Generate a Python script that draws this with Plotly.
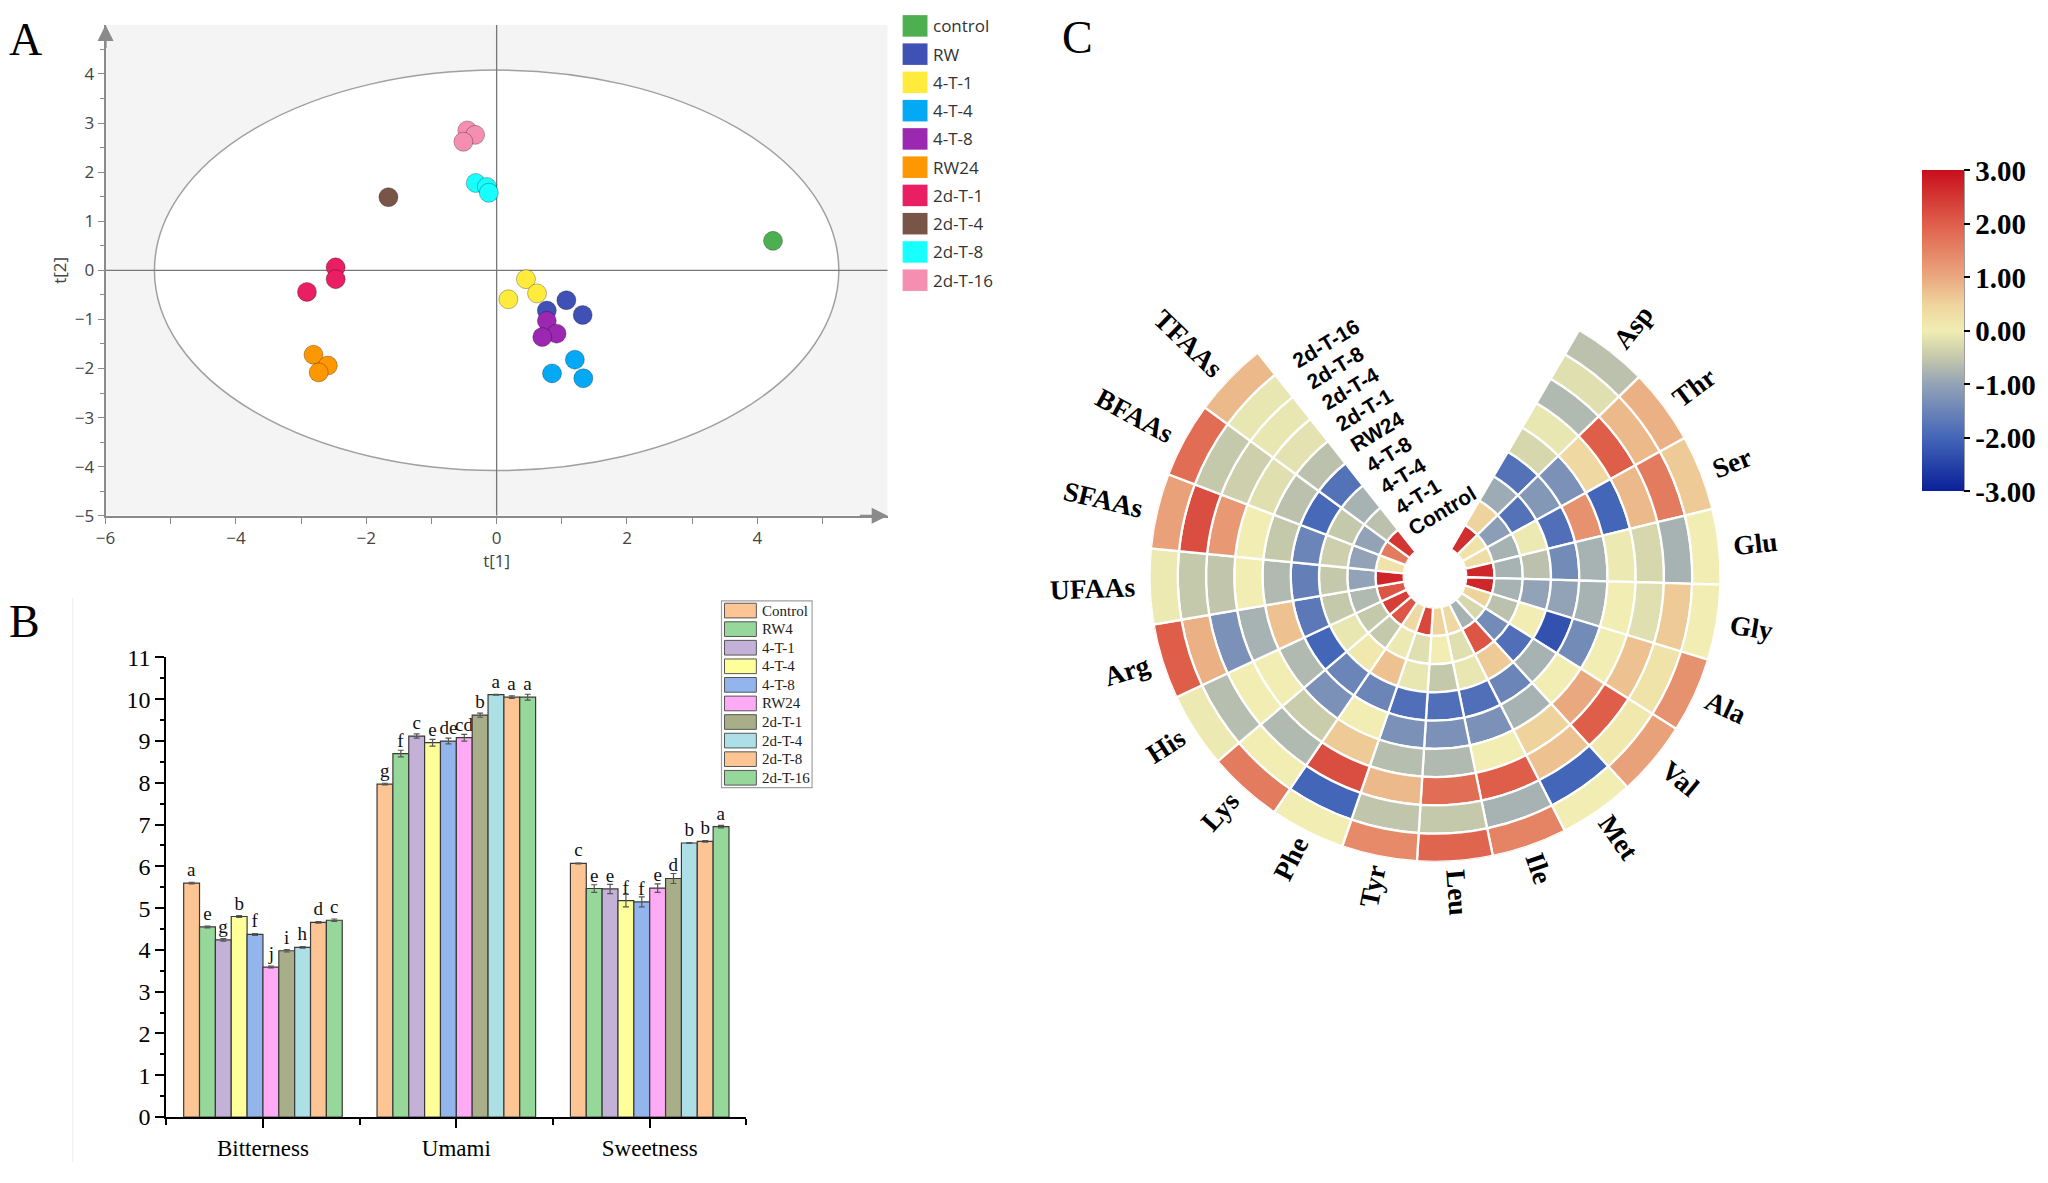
import math
import plotly.graph_objects as go

# target picture size and the page margin the browser puts around the figure
W_T, H_T = 2048, 1183
OFF = 8
W, H = W_T - 2 * OFF, H_T - 2 * OFF

# ---------------- Panel A : PCA score plot ----------------
groups_A = ["control", "RW", "4-T-1", "4-T-4", "4-T-8", "RW24", "2d-T-1", "2d-T-4", "2d-T-8", "2d-T-16"]
colors_A = ["#4CAF50", "#3F51B5", "#FFEB3B", "#03A9F4", "#9C27B0", "#FF9800", "#E91E63", "#795548", "#18FFFF", "#F48FB1"]
t1_control = [4.24];                t2_control = [0.60]
t1_RW = [1.07, 1.32, 0.77];         t2_RW = [-0.61, -0.91, -0.82]
t1_4T1 = [0.45, 0.62, 0.18];        t2_4T1 = [-0.18, -0.47, -0.59]
t1_4T4 = [1.20, 1.33, 0.85];        t2_4T4 = [-1.82, -2.20, -2.10]
t1_4T8 = [0.77, 0.92, 0.70];        t2_4T8 = [-1.03, -1.29, -1.36]
t1_RW24 = [-2.81, -2.59, -2.73];    t2_RW24 = [-1.72, -1.94, -2.08]
t1_2dT1 = [-2.47, -2.47, -2.91];    t2_2dT1 = [0.06, -0.18, -0.44]
t1_2dT4 = [-1.66];                  t2_2dT4 = [1.49]
t1_2dT8 = [-0.32, -0.15, -0.12];    t2_2dT8 = [1.78, 1.70, 1.58]
t1_2dT16 = [-0.45, -0.33, -0.51];   t2_2dT16 = [2.85, 2.76, 2.62]
scores_t1 = [t1_control, t1_RW, t1_4T1, t1_4T4, t1_4T8, t1_RW24, t1_2dT1, t1_2dT4, t1_2dT8, t1_2dT16]
scores_t2 = [t2_control, t2_RW, t2_4T1, t2_4T4, t2_4T8, t2_RW24, t2_2dT1, t2_2dT4, t2_2dT8, t2_2dT16]
ellipse_a, ellipse_b = 5.25, 4.08          # Hotelling T2 ellipse semi-axes
xticks_A = [-6, -4, -2, 0, 2, 4]
yticks_A = [-5, -4, -3, -2, -1, 0, 1, 2, 3, 4]

# ---------------- Panel B : e-tongue bars ----------------
tastes = ["Bitterness", "Umami", "Sweetness"]
samples_B = ["Control", "RW4", "4-T-1", "4-T-4", "4-T-8", "RW24", "2d-T-1", "2d-T-4", "2d-T-8", "2d-T-16"]
colors_B = ["#FDC594", "#96D89A", "#C3B1D8", "#FFFF99", "#93B5EE", "#FFAAF5", "#A8AE88", "#ADDFE6", "#FDC594", "#96D89A"]
bitterness = [5.60, 4.55, 4.24, 4.80, 4.37, 3.59, 3.98, 4.06, 4.66, 4.71]
umami = [7.97, 8.70, 9.12, 8.96, 9.00, 9.08, 9.62, 10.11, 10.05, 10.05]
sweetness = [6.07, 5.47, 5.46, 5.18, 5.15, 5.48, 5.71, 6.56, 6.60, 6.95]
err_bitterness = [0.02, 0.02, 0.03, 0.02, 0.02, 0.02, 0.03, 0.02, 0.02, 0.03]
err_umami = [0.02, 0.08, 0.05, 0.08, 0.07, 0.08, 0.05, 0.01, 0.03, 0.07]
err_sweetness = [0.01, 0.09, 0.11, 0.15, 0.12, 0.10, 0.12, 0.01, 0.02, 0.03]
sig_bitterness = ["a", "e", "g", "b", "f", "j", "i", "h", "d", "c"]
sig_umami = ["g", "f", "c", "e", "de", "cd", "b", "a", "a", "a"]
sig_sweetness = ["c", "e", "e", "f", "f", "e", "d", "b", "b", "a"]

# ---------------- Panel C : circular heatmap ----------------
amino = ["Asp", "Thr", "Ser", "Glu", "Gly", "Ala", "Val", "Met", "Ile", "Leu", "Tyr", "Phe",
         "Lys", "His", "Arg", "UFAAs", "SFAAs", "BFAAs", "TFAAs"]
rings = ["Control", "4-T-1", "4-T-4", "4-T-8", "RW24", "2d-T-1", "2d-T-4", "2d-T-8", "2d-T-16"]
z_control = [2.6, 0.2, 0.3, 2.7, 2.7, 0.5, -0.3, -0.8, 0.4, 0.5, 2.3, 0.4, 2.1, 2.4, 2.1, 2.7, 0.2, 1.6, 2.5]
z_4T1 = [0.5, -1.1, -0.8, -0.8, -0.8, -0.6, -1.4, 2.1, -0.2, 0.0, -0.2, -0.05, -0.5, -0.5, -0.7, -1.0, -1.0, -1.0, -0.6]
z_4T4 = [-0.9, -1.8, -0.05, -0.6, -1.0, 0.0, -1.85, 0.6, -0.1, -0.5, -0.1, 0.7, 0.1, -0.1, -0.5, -0.5, -0.4, -0.5, -0.8]
z_4T8 = [-1.8, -1.2, -1.85, -1.4, -1.0, -2.3, -0.8, -1.5, -1.85, -1.85, -1.85, -1.5, -1.5, -2.0, -1.7, -1.6, -1.5, -1.95, -1.8]
z_RW24 = [-0.3, -1.3, 1.3, -0.8, -0.8, -1.4, 0.0, -0.8, -1.3, -1.3, -1.3, 0.0, -1.3, -0.7, 0.7, -0.7, -0.5, -0.6, -0.6]
z_2dT1 = [-0.1, 0.4, -2.0, -0.05, 0.0, 0.0, 1.0, 0.5, 0.0, -0.7, -0.65, 0.6, -0.45, 0.0, -0.8, 0.0, 0.0, -0.2, -0.15]
z_2dT4 = [-0.7, 2.0, 0.8, -0.3, -0.2, 0.7, 2.0, 0.7, 2.0, 1.8, 0.8, 2.2, -0.7, 0.0, -1.3, -0.55, 1.2, -0.4, -0.1]
z_2dT8 = [-0.2, 0.8, 1.6, -0.8, 0.6, 0.2, 0.1, -2.0, -0.8, -0.5, -0.55, -2.0, 0.0, -0.65, 0.9, -0.5, 2.2, -0.5, -0.1]
z_2dT16 = [-0.6, 0.9, 0.6, 0.0, 0.0, 1.3, 1.1, 0.0, 1.5, 1.9, 1.4, 0.0, 1.6, -0.05, 2.0, -0.05, 1.1, 1.8, 0.8]
z_rings = [z_control, z_4T1, z_4T4, z_4T8, z_RW24, z_2dT1, z_2dT4, z_2dT8, z_2dT16]
cbar_vals = [-3, -2, -1, 0, 1, 2, 3]
cbar_text = ["-3.00", "-2.00", "-1.00", "0.00", "1.00", "2.00", "3.00"]

heat_scale = [[0.0, "#0A1F98"], [0.1667, "#4466B8"], [0.3333, "#93A3B7"], [0.4167, "#C5C9AB"],
              [0.5, "#F1EDB3"], [0.5833, "#EFD39C"], [0.6667, "#EAA87F"], [0.8333, "#DF5E4A"], [1.0, "#C80E1C"]]

# ---------------- geometry (pixels of the target picture) ----------------
A_x0, A_x1, A_y0, A_y1 = 96, 882, 12, 514
B_x0, B_x1, B_y0, B_y1 = 157, 740, 659, 1129
C_cx, C_cy, C_R, C_hole = 1432, 576, 292, 32
C_start, C_step = 52.0, 15.33

def px(x): return (x - OFF) / W
def py(y): return 1 - (y - OFF) / H

fig = go.Figure()

# ---- Panel A traces ----
for name, col, xs, ys in zip(groups_A, colors_A, scores_t1, scores_t2):
    fig.add_trace(go.Scatter(x=xs, y=ys, mode="markers", name=name, showlegend=False,
                             marker=dict(size=19, color=col, line=dict(color="rgba(0,0,0,0.28)", width=1)),
                             xaxis="x", yaxis="y"))

# ---- Panel B traces ----
for i, (name, col) in enumerate(zip(samples_B, colors_B)):
    fig.add_trace(go.Bar(
        x=[0, 1, 2], y=[bitterness[i], umami[i], sweetness[i]], name=name, showlegend=False,
        marker=dict(color=col, line=dict(color="#3a3a3a", width=1.2)),
        error_y=dict(type="data", array=[err_bitterness[i], err_umami[i], err_sweetness[i]],
                     color="#555555", thickness=1.2, width=3),
        text=[sig_bitterness[i], sig_umami[i], sig_sweetness[i]], textposition="outside",
        textfont=dict(family="Liberation Serif", size=19, color="#111"), constraintext="none",
        cliponaxis=False, xaxis="x2", yaxis="y2"))

# ---- Panel C trace ----
r_all, base_all, th_all, c_all = [], [], [], []
for k, zr in enumerate(z_rings):
    for i, v in enumerate(zr):
        r_all.append(1); base_all.append(k)
        th_all.append(C_start - C_step * i); c_all.append(v)
fig.add_trace(go.Barpolar(
    r=r_all, base=base_all, theta=th_all, width=[C_step] * len(r_all), subplot="polar", showlegend=False,
    marker=dict(color=c_all, colorscale=heat_scale, cmin=-3, cmax=3, line=dict(color="white", width=2.3),
                colorbar=dict(x=px(1921), xanchor="left", y=py((161 + 489) / 2), yanchor="middle",
                              len=(489 - 161) / H, lenmode="fraction", thickness=42, thicknessmode="pixels",
                              tickvals=cbar_vals, ticktext=cbar_text, ticks="outside", ticklen=6,
                              tickcolor="black", tickwidth=2, outlinewidth=0, xpad=0, ypad=0,
                              tickfont=dict(family="Liberation Serif", size=29, color="black", weight="bold"))),
))

shapes = []
ann = []

# Panel A backdrop
shapes.append(dict(type="rect", xref="x", yref="y", x0=-6, x1=6, y0=-5, y1=5, fillcolor="#F4F4F4",
                   line=dict(width=0), layer="below"))
shapes.append(dict(type="circle", xref="x", yref="y", x0=-ellipse_a, x1=ellipse_a, y0=-ellipse_b, y1=ellipse_b,
                   fillcolor="white", line=dict(color="#A0A0A0", width=1.5), layer="below"))
shapes.append(dict(type="line", xref="x", yref="y", x0=0, x1=0, y0=-5, y1=5, line=dict(color="#777", width=1.3), layer="below"))
shapes.append(dict(type="line", xref="x", yref="y", x0=-6, x1=6, y0=0, y1=0, line=dict(color="#777", width=1.3), layer="below"))
# axis arrows
ann.append(dict(xref="x", yref="y", axref="x", ayref="y", x=6.0, y=-5, ax=5.55, ay=-5, text="", showarrow=True,
                arrowhead=2, arrowsize=1.6, arrowwidth=2, arrowcolor="#8A8A8A"))
ann.append(dict(xref="x", yref="y", axref="x", ayref="y", x=-6, y=5.0, ax=-6, ay=4.5, text="", showarrow=True,
                arrowhead=2, arrowsize=1.6, arrowwidth=2, arrowcolor="#8A8A8A"))

# Panel A legend (manual)
for k, (name, col) in enumerate(zip(groups_A, colors_A)):
    yc = 13 + 28.9 * k
    shapes.append(dict(type="rect", xref="paper", yref="paper", x0=px(897), x1=px(922), y0=py(yc + 11), y1=py(yc - 11),
                       fillcolor=col, line=dict(width=0)))
    ann.append(dict(xref="paper", yref="paper", x=px(926), y=py(yc), text=name, showarrow=False, xanchor="left",
                    yanchor="middle", font=dict(family="Open Sans", size=17, color="#333")))

# Panel B legend (manual)
shapes.append(dict(type="rect", xref="paper", yref="paper", x0=px(715), x1=px(806), y0=py(792), y1=py(601),
                   fillcolor="white", line=dict(color="#A0A0A0", width=1.2)))
for k, (name, col) in enumerate(zip(samples_B, colors_B)):
    yc = 611 + 19 * k
    shapes.append(dict(type="rect", xref="paper", yref="paper", x0=px(718), x1=px(750), y0=py(yc + 7.5), y1=py(yc - 7.5),
                       fillcolor=col, line=dict(color="#555", width=1)))
    ann.append(dict(xref="paper", yref="paper", x=px(754), y=py(yc), text=name, showarrow=False, xanchor="left",
                    yanchor="middle", font=dict(family="Liberation Serif", size=15, color="#222")))
# faint border of panel B image
shapes.append(dict(type="line", xref="paper", yref="paper", x0=px(63), x1=px(63), y0=py(598), y1=0,
                   line=dict(color="#ECECEC", width=1)))

# Panel C labels
TB = {'U': .722, 'F': .611, 'A': .722, 's': .389, 'B': .667, 'S': .556, 'T': .667, 'L': .667, 'e': .444, 'u': .556,
      'I': .389, 'l': .278, 'M': .944, 't': .333, 'V': .722, 'a': .5, 'G': .778, 'y': .5, 'h': .556, 'r': .444,
      'P': .611, 'H': .778, 'i': .278, 'g': .5, 'p': .556}
AB = {'2': .556, '1': .556, '4': .556, '6': .556, '8': .556, 'd': .611, '-': .333, 'T': .611, 'R': .722, 'W': .944,
      'C': .722, 'o': .611, 'n': .611, 't': .333, 'r': .389, 'l': .278}

def text_w(s, size, table):
    return sum(table.get(c, 0.6) for c in s) * size

cat_size = 27.5
for i, name in enumerate(amino):
    th = C_start - C_step * i
    thn = ((th + 180) % 360) - 180
    r = C_R + 9 + text_w(name, cat_size, TB) / 2
    xx = C_cx + r * math.cos(math.radians(th))
    yy = C_cy - r * math.sin(math.radians(th))
    if -90 < thn < 90:
        ang = -thn
    else:
        ang = 180 - thn
    ang = ((ang + 180) % 360) - 180
    ann.append(dict(xref="paper", yref="paper", x=px(xx), y=py(yy), text=name, showarrow=False, textangle=ang,
                    xanchor="center", yanchor="middle",
                    font=dict(family="Liberation Serif", size=cat_size, color="black", weight="bold")))

# sample (ring) labels stacked in the gap
ring_size = 21
ring_dir = 121.5
stack_dir = 124.4
stack_step = 26.0
tilt = 31.0
ring_w = (C_R - C_hole) / len(rings)
r0 = C_hole + ring_w * 0.5
for k, name in enumerate(rings):
    sx = C_cx + r0 * math.cos(math.radians(ring_dir)) + k * stack_step * math.cos(math.radians(stack_dir))
    sy = C_cy - r0 * math.sin(math.radians(ring_dir)) - k * stack_step * math.sin(math.radians(stack_dir))
    wdt = text_w(name, ring_size, AB)
    dx, dy = math.cos(math.radians(tilt)), -math.sin(math.radians(tilt))
    nx, ny = -math.sin(math.radians(tilt)), -math.cos(math.radians(tilt))
    cxk = sx + dx * (wdt / 2 + 4) + nx * 7
    cyk = sy + dy * (wdt / 2 + 4) + ny * 7
    ann.append(dict(xref="paper", yref="paper", x=px(cxk), y=py(cyk), text=name, showarrow=False, textangle=-tilt,
                    xanchor="center", yanchor="middle",
                    font=dict(family="Liberation Sans", size=ring_size, color="black", weight="bold")))

# colorbar right edge line
shapes.append(dict(type="line", xref="paper", yref="paper", x0=px(1963), x1=px(1963), y0=py(489), y1=py(161),
                   line=dict(color="black", width=2)))

# panel letters
for lab, (xx, yy) in zip(["A", "B", "C"], [(16, 27), (15, 622), (1073, 25)]):
    ann.append(dict(xref="paper", yref="paper", x=px(xx), y=py(yy), text=lab, showarrow=False, xanchor="center",
                    yanchor="middle", font=dict(family="Liberation Serif", size=46, color="black")))

fig.update_layout(
    width=W, height=H, margin=dict(l=0, r=0, t=0, b=0), paper_bgcolor="white", plot_bgcolor="rgba(0,0,0,0)",
    showlegend=False, shapes=shapes, annotations=ann,
    barmode="group", bargap=0.18, bargroupgap=0.0,
    xaxis=dict(domain=[px(A_x0), px(A_x1)], range=[-6, 6], anchor="y", showgrid=False, zeroline=False,
               showline=True, linecolor="#8A8A8A", linewidth=2, ticks="outside", ticklen=6, tickcolor="#8A8A8A",
               tickvals=xticks_A, minor=dict(tickvals=[-5, -3, -1, 1, 3, 5], ticks="outside", ticklen=6, tickcolor="#8A8A8A"),
               tickfont=dict(family="Open Sans", size=17, color="#444"),
               title=dict(text="t[1]", font=dict(family="Open Sans", size=17, color="#444"), standoff=6)),
    yaxis=dict(domain=[py(A_y1), py(A_y0)], range=[-5, 5], anchor="x", showgrid=False, zeroline=False,
               showline=True, linecolor="#8A8A8A", linewidth=2, ticks="outside", ticklen=6, tickcolor="#8A8A8A",
               tickvals=yticks_A, minor=dict(tickvals=[v + 0.5 for v in yticks_A], ticks="outside", ticklen=4, tickcolor="#8A8A8A"),
               tickfont=dict(family="Open Sans", size=17, color="#444"),
               title=dict(text="t[2]", font=dict(family="Open Sans", size=17, color="#444"), standoff=4)),
    xaxis2=dict(domain=[px(B_x0), px(B_x1)], range=[-0.5, 2.5], anchor="y2", showgrid=False, zeroline=False,
                showline=True, linecolor="black", linewidth=2, ticks="outside", ticklen=9, tickwidth=2, tickcolor="black",
                tickvals=[0, 1, 2], ticktext=tastes,
                minor=dict(tick0=-0.5, dtick=1, ticks="outside", ticklen=6, tickwidth=2, tickcolor="black"),
                tickfont=dict(family="Liberation Serif", size=23, color="black")),
    yaxis2=dict(domain=[py(B_y1), py(B_y0)], range=[0, 11], anchor="x2", showgrid=False, zeroline=False,
                showline=True, linecolor="black", linewidth=2, ticks="outside", ticklen=9, tickwidth=2, tickcolor="black",
                dtick=1, minor=dict(dtick=0.5, ticks="outside", ticklen=4, tickwidth=1.5, tickcolor="black"),
                tickfont=dict(family="Liberation Serif", size=24, color="black")),
    polar=dict(domain=dict(x=[px(C_cx - C_R), px(C_cx + C_R)], y=[py(C_cy + C_R), py(C_cy - C_R)]),
               hole=C_hole / C_R, bgcolor="rgba(0,0,0,0)",
               radialaxis=dict(range=[0, len(rings)], visible=False, showgrid=False),
               angularaxis=dict(visible=False, rotation=0, direction="counterclockwise", showgrid=False,
                                showline=False, showticklabels=False, ticks="")),
)

fig.write_html("out.html", config={"displayModeBar": False})
